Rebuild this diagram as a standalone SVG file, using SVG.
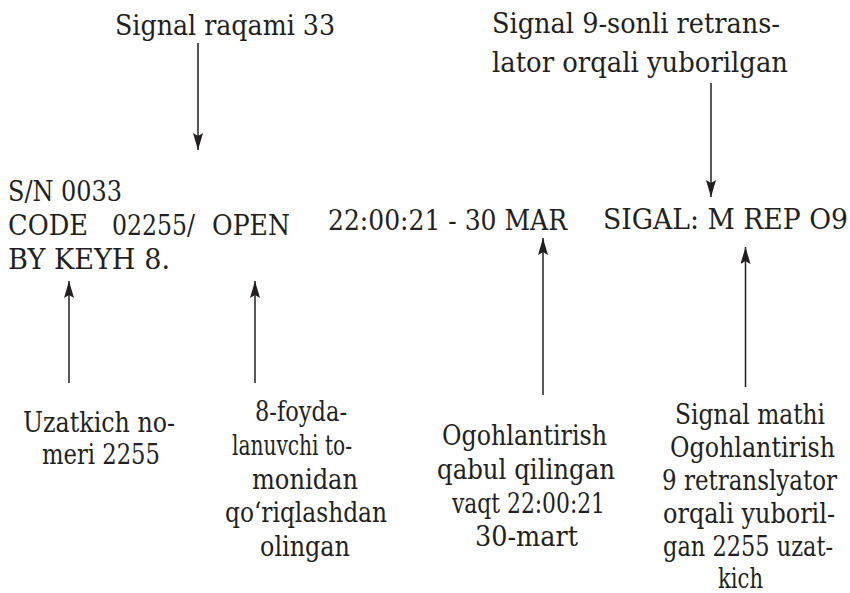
<svg xmlns="http://www.w3.org/2000/svg" width="850" height="593" viewBox="0 0 850 593">
<style>
text{font-family:'DejaVu Serif Condensed','DejaVu Serif',serif;font-stretch:condensed;font-size:27px;fill:#231f20}
.c line{stroke:#231f20;stroke-width:1.5;fill:none}
</style>
<defs>
<marker id="ah" viewBox="0 0 17 10" refX="17" refY="5" markerWidth="17" markerHeight="10" markerUnits="userSpaceOnUse" orient="auto">
<path d="M0,0 L17,5 L0,10 L3,5 Z" fill="#231f20"/>
</marker>
</defs>
<rect width="850" height="593" fill="#fff"/>
<g id="top-left">
<text x="115" y="35" textLength="220" lengthAdjust="spacingAndGlyphs">Signal raqami 33</text>
</g>
<g id="top-right">
<text x="492" y="33" textLength="288" lengthAdjust="spacingAndGlyphs">Signal 9-sonli retrans-</text>
<text x="492" y="72" textLength="296" lengthAdjust="spacingAndGlyphs">lator orqali yuborilgan</text>
</g>
<g id="record">
<text x="8" y="201" textLength="114" lengthAdjust="spacingAndGlyphs">S/N 0033</text>
<text x="8" y="235" textLength="80" lengthAdjust="spacingAndGlyphs">CODE</text>
<text x="112" y="235" textLength="83" lengthAdjust="spacingAndGlyphs">02255/</text>
<text x="212" y="235" textLength="78" lengthAdjust="spacingAndGlyphs">OPEN</text>
<text x="8" y="269" textLength="162" lengthAdjust="spacingAndGlyphs">BY KEYH 8.</text>
</g>
<g id="time">
<text x="328" y="230" textLength="239" lengthAdjust="spacingAndGlyphs">22:00:21 - 30 MAR</text>
</g>
<g id="sigal">
<text x="603" y="229" textLength="245" lengthAdjust="spacingAndGlyphs">SIGAL: M REP O9</text>
</g>
<g id="label-uzatkich">
<text x="23" y="432" textLength="152" lengthAdjust="spacingAndGlyphs">Uzatkich no-</text>
<text x="42" y="464" textLength="118" lengthAdjust="spacingAndGlyphs">meri 2255</text>
</g>
<g id="label-foydalanuvchi">
<text x="255" y="421" textLength="92" lengthAdjust="spacingAndGlyphs">8-foyda-</text>
<text x="232" y="455" textLength="120" lengthAdjust="spacingAndGlyphs">lanuvchi to-</text>
<text x="252" y="489" textLength="106" lengthAdjust="spacingAndGlyphs">monidan</text>
<text x="225" y="522" textLength="162" lengthAdjust="spacingAndGlyphs">qo‘riqlashdan</text>
<text x="260" y="556" textLength="90" lengthAdjust="spacingAndGlyphs">olingan</text>
</g>
<g id="label-vaqt">
<text x="442" y="445" textLength="165" lengthAdjust="spacingAndGlyphs">Ogohlantirish</text>
<text x="437" y="479" textLength="178" lengthAdjust="spacingAndGlyphs">qabul qilingan</text>
<text x="452" y="513" textLength="153" lengthAdjust="spacingAndGlyphs">vaqt 22:00:21</text>
<text x="475" y="546" textLength="103" lengthAdjust="spacingAndGlyphs">30-mart</text>
</g>
<g id="label-signal">
<text x="675" y="424" textLength="150" lengthAdjust="spacingAndGlyphs">Signal mathi</text>
<text x="670" y="457" textLength="165" lengthAdjust="spacingAndGlyphs">Ogohlantirish</text>
<text x="662" y="490" textLength="175" lengthAdjust="spacingAndGlyphs">9 retranslyator</text>
<text x="663" y="523" textLength="172" lengthAdjust="spacingAndGlyphs">orqali yuboril-</text>
<text x="663" y="556" textLength="170" lengthAdjust="spacingAndGlyphs">gan 2255 uzat-</text>
<text x="718" y="588" textLength="45" lengthAdjust="spacingAndGlyphs">kich</text>
</g>
<g id="connectors" class="c">
<line x1="198" y1="43" x2="198" y2="150" marker-end="url(#ah)"/>
<line x1="711" y1="83" x2="711" y2="197" marker-end="url(#ah)"/>
<line x1="69" y1="383" x2="69" y2="281" marker-end="url(#ah)"/>
<line x1="255" y1="383" x2="255" y2="281" marker-end="url(#ah)"/>
<line x1="543" y1="395" x2="543" y2="238" marker-end="url(#ah)"/>
<line x1="745.5" y1="387" x2="745.5" y2="247" marker-end="url(#ah)"/>
</g>
</svg>
